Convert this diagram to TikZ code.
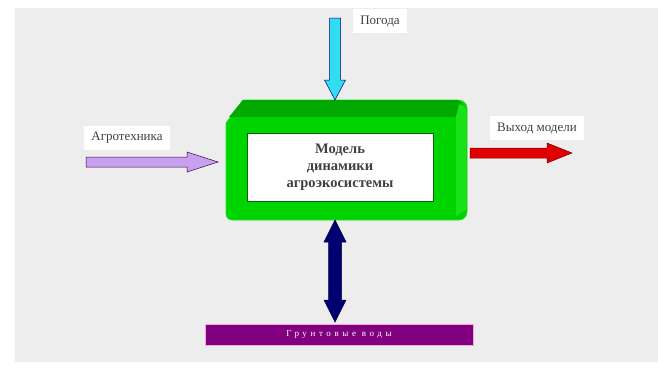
\documentclass[tikz,border=0pt]{standalone}
\usepackage{fontspec}
\setmainfont{Liberation Serif}
\definecolor{gbright}{HTML}{00D400}
\definecolor{gdark}{HTML}{00A800}
\definecolor{grim}{HTML}{22E622}
\definecolor{cyanar}{HTML}{33DDF0}
\definecolor{lav}{HTML}{C8A0F0}
\definecolor{redar}{HTML}{E00000}
\definecolor{navy}{HTML}{000070}
\definecolor{bar}{HTML}{800080}
\begin{document}
\begin{tikzpicture}[x=1pt,y=-1pt,
  lbl/.style={fill=white,inner xsep=7pt,inner ysep=6pt,font=\fontsize{13}{15}\selectfont,text=black!75}]
\useasboundingbox (0,0) rectangle (658,367);
\fill[white] (0,0) rectangle (658,367);
\fill[gray!14] (15,8) rectangle (658,362);
% green block
\fill[gbright, draw=grim, line width=0.6pt]
  (243,100) -- (458,100) to[out=0,in=90] (467,108) -- (467,212) to[out=-90,in=0] (459,220) -- (232,220) to[out=180,in=-90] (226,214) -- (226,123) -- cycle;
\fill[gdark]
  (243,100) -- (458,100) to[out=0,in=90] (462,106) -- (455,117) -- (229,117) -- cycle;
\fill[grim!70!gbright]
  (459,104) to[out=-20,in=90] (466,110) -- (466,210) -- (456,216) -- (456,117) -- cycle;
\node[draw=green!40!black, line width=0.8pt, fill=white, minimum width=186pt, minimum height=68pt, inner sep=0pt,
  align=center, font=\bfseries\fontsize{14.5}{17}\selectfont, text=black!75] (model) at (340,167)
  {Модель\\динамики\\агроэкосистемы};
% labels
\node[lbl] (pog) at (380,21) {Погода};
\node[lbl] (agro) at (127,138) {Агротехника};
\node[lbl] (vyh) at (537,128) {Выход модели};
% cyan arrow
\filldraw[fill=cyanar, draw=blue!55!black, line width=0.5pt]
  (329.5,18) -- (340.5,18) -- (340.5,80) -- (345.5,80) -- (335,100) -- (324.5,80) -- (329.5,80) -- cycle;
% purple arrow
\filldraw[fill=lav, draw=violet!50!black, line width=0.5pt]
  (86,157) -- (187,157) -- (187,152) -- (218,162) -- (187,172) -- (187,167) -- (86,167) -- cycle;
% red arrow
\filldraw[fill=redar, draw=red!50!black, line width=0.5pt]
  (470,148) -- (547,148) -- (547,143) -- (572,153) -- (547,163) -- (547,158) -- (470,158) -- cycle;
% ground water bar
\node[fill=bar, draw=magenta!35!white, line width=0.8pt, minimum width=268pt, minimum height=21pt,
  inner sep=0pt, text=white, font=\fontsize{9}{10}\selectfont\addfontfeature{LetterSpace=40}] (gw) at (339,334.5) {Грунтовые воды};
% navy double arrow
\filldraw[fill=navy, draw=navy!70!black, line width=0.5pt]
  (335,220) -- (346,242) -- (341.5,242) -- (341.5,300) -- (346,300) -- (335,322) -- (324,300) -- (328.5,300) -- (328.5,242) -- (324,242) -- cycle;
\end{tikzpicture}
\end{document}
